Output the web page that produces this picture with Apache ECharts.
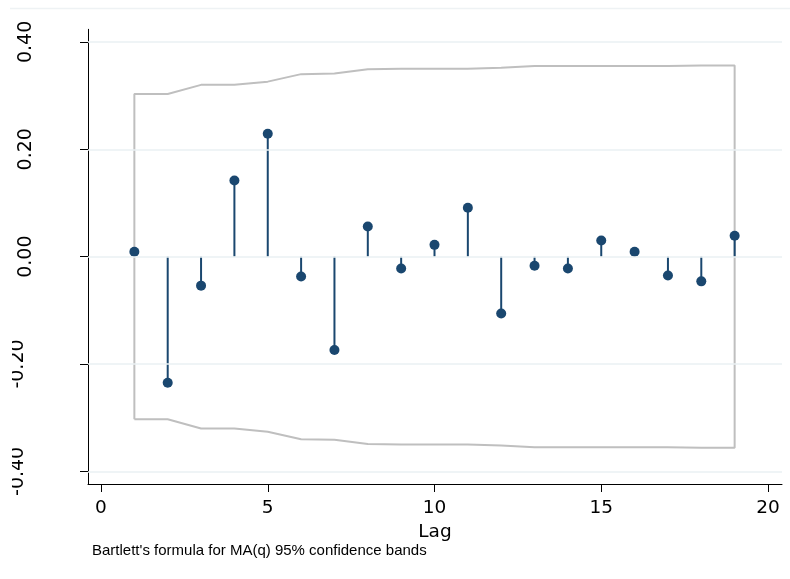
<!DOCTYPE html>
<html>
<head>
<meta charset="utf-8">
<script src="https://cdn.jsdelivr.net/npm/echarts@6/dist/echarts.min.js"></script>
<style>html,body{margin:0;padding:0;background:#fff;}#c{width:790px;height:579px;}</style>
</head>
<body>
<div id="c"></div>
<script>
// ---- data ----
const lags = [1,2,3,4,5,6,7,8,9,10,11,12,13,14,15,16,17,18,19];
const acf = [0.009,-0.235,-0.054,0.142,0.229,-0.037,-0.174,0.056,-0.022,0.022,0.091,-0.106,-0.017,-0.022,0.030,0.009,-0.035,-0.046,0.039];
const upperBand = [0.303,0.303,0.320,0.320,0.326,0.340,0.341,0.349,0.350,0.350,0.350,0.352,0.355,0.355,0.355,0.355,0.355,0.356,0.356];
const lowerBand = [-0.303,-0.303,-0.320,-0.320,-0.326,-0.340,-0.341,-0.349,-0.350,-0.350,-0.350,-0.352,-0.355,-0.355,-0.355,-0.355,-0.355,-0.356,-0.356];
const xTicks = [0,5,10,15,20];
const yTicks = [-0.4,-0.2,0,0.2,0.4];
const xTitle = 'Lag';
const note = "Bartlett's formula for MA(q) 95% confidence bands";

// ---- build ----
const stems = lags.map((l,i)=>[l,acf[i]]);
const bandPath = [[lags[0], lowerBand[0]]];
lags.forEach((l,i)=>bandPath.push([l, upperBand[i]]));
for (let i=lags.length-1;i>=0;i--) bandPath.push([lags[i], lowerBand[i]]);

const navy = '#1a476f';
const tickFont = 'DejaVu Sans';
const chart = echarts.init(document.getElementById('c'), null, {renderer:'canvas'});
chart.setOption({
  animation:false,
  backgroundColor:'#fff',
  grid:{left:88,right:8,top:29.3,bottom:95,containLabel:false},
  xAxis:{
    type:'value', min:-0.39, max:20.42,
    name:xTitle, nameLocation:'middle', nameGap:31,
    nameTextStyle:{fontFamily:tickFont,fontSize:18.5,color:'#000'},
    axisLine:{show:true,onZero:false,lineStyle:{color:'#000',width:1}},
    axisTick:{show:true,length:8,customValues:xTicks,lineStyle:{color:'#000'}},
    axisLabel:{customValues:xTicks,margin:15,fontFamily:tickFont,fontSize:18.5,color:'#000'},
    splitLine:{show:false}
  },
  yAxis:{
    type:'value', min:-0.4235, max:0.4235,
    axisLine:{show:true,onZero:false,lineStyle:{color:'#000',width:1}},
    axisTick:{show:true,length:8,customValues:yTicks,lineStyle:{color:'#000'}},
    axisLabel:{customValues:yTicks,rotate:90,margin:52,fontFamily:tickFont,fontSize:19,color:'#000',
      formatter:v=> v<0 ? '{n|'+v.toFixed(2)+'}' : v.toFixed(2),
      rich:{n:{fontFamily:tickFont,fontSize:19,color:'#000',padding:[0,0,8,0]}}},
    splitLine:{show:false}
  },
  graphic:[
    {type:'line',shape:{x1:10,y1:8.5,x2:790,y2:8.5},style:{stroke:'#eef2f4',lineWidth:1.5},silent:true},
    {type:'rect',shape:{x:0,y:320,width:12,height:180},style:{fill:'#fff'},z:100,silent:true}
  ],
  title:{text:note,left:92,top:543,padding:0,textStyle:{fontFamily:'Liberation Sans',fontSize:15,fontWeight:'normal',color:'#000'}},
  series:[
    {type:'line',data:[],silent:true,
     markLine:{silent:true,symbol:'none',label:{show:false},lineStyle:{color:'#eaf1f3',width:1.5,type:'solid'},
       data:yTicks.map(v=>({yAxis:v}))},z:0},
    {type:'line',data:bandPath,showSymbol:false,symbol:'none',lineStyle:{color:'#bfbfbf',width:2},z:1,silent:true},
    {type:'bar',data:stems,barWidth:2,itemStyle:{color:navy},z:2,silent:true},
    {type:'scatter',data:stems,symbol:'circle',symbolSize:10,itemStyle:{color:navy,opacity:1},z:3,silent:true}
  ]
});
</script>
</body>
</html>
